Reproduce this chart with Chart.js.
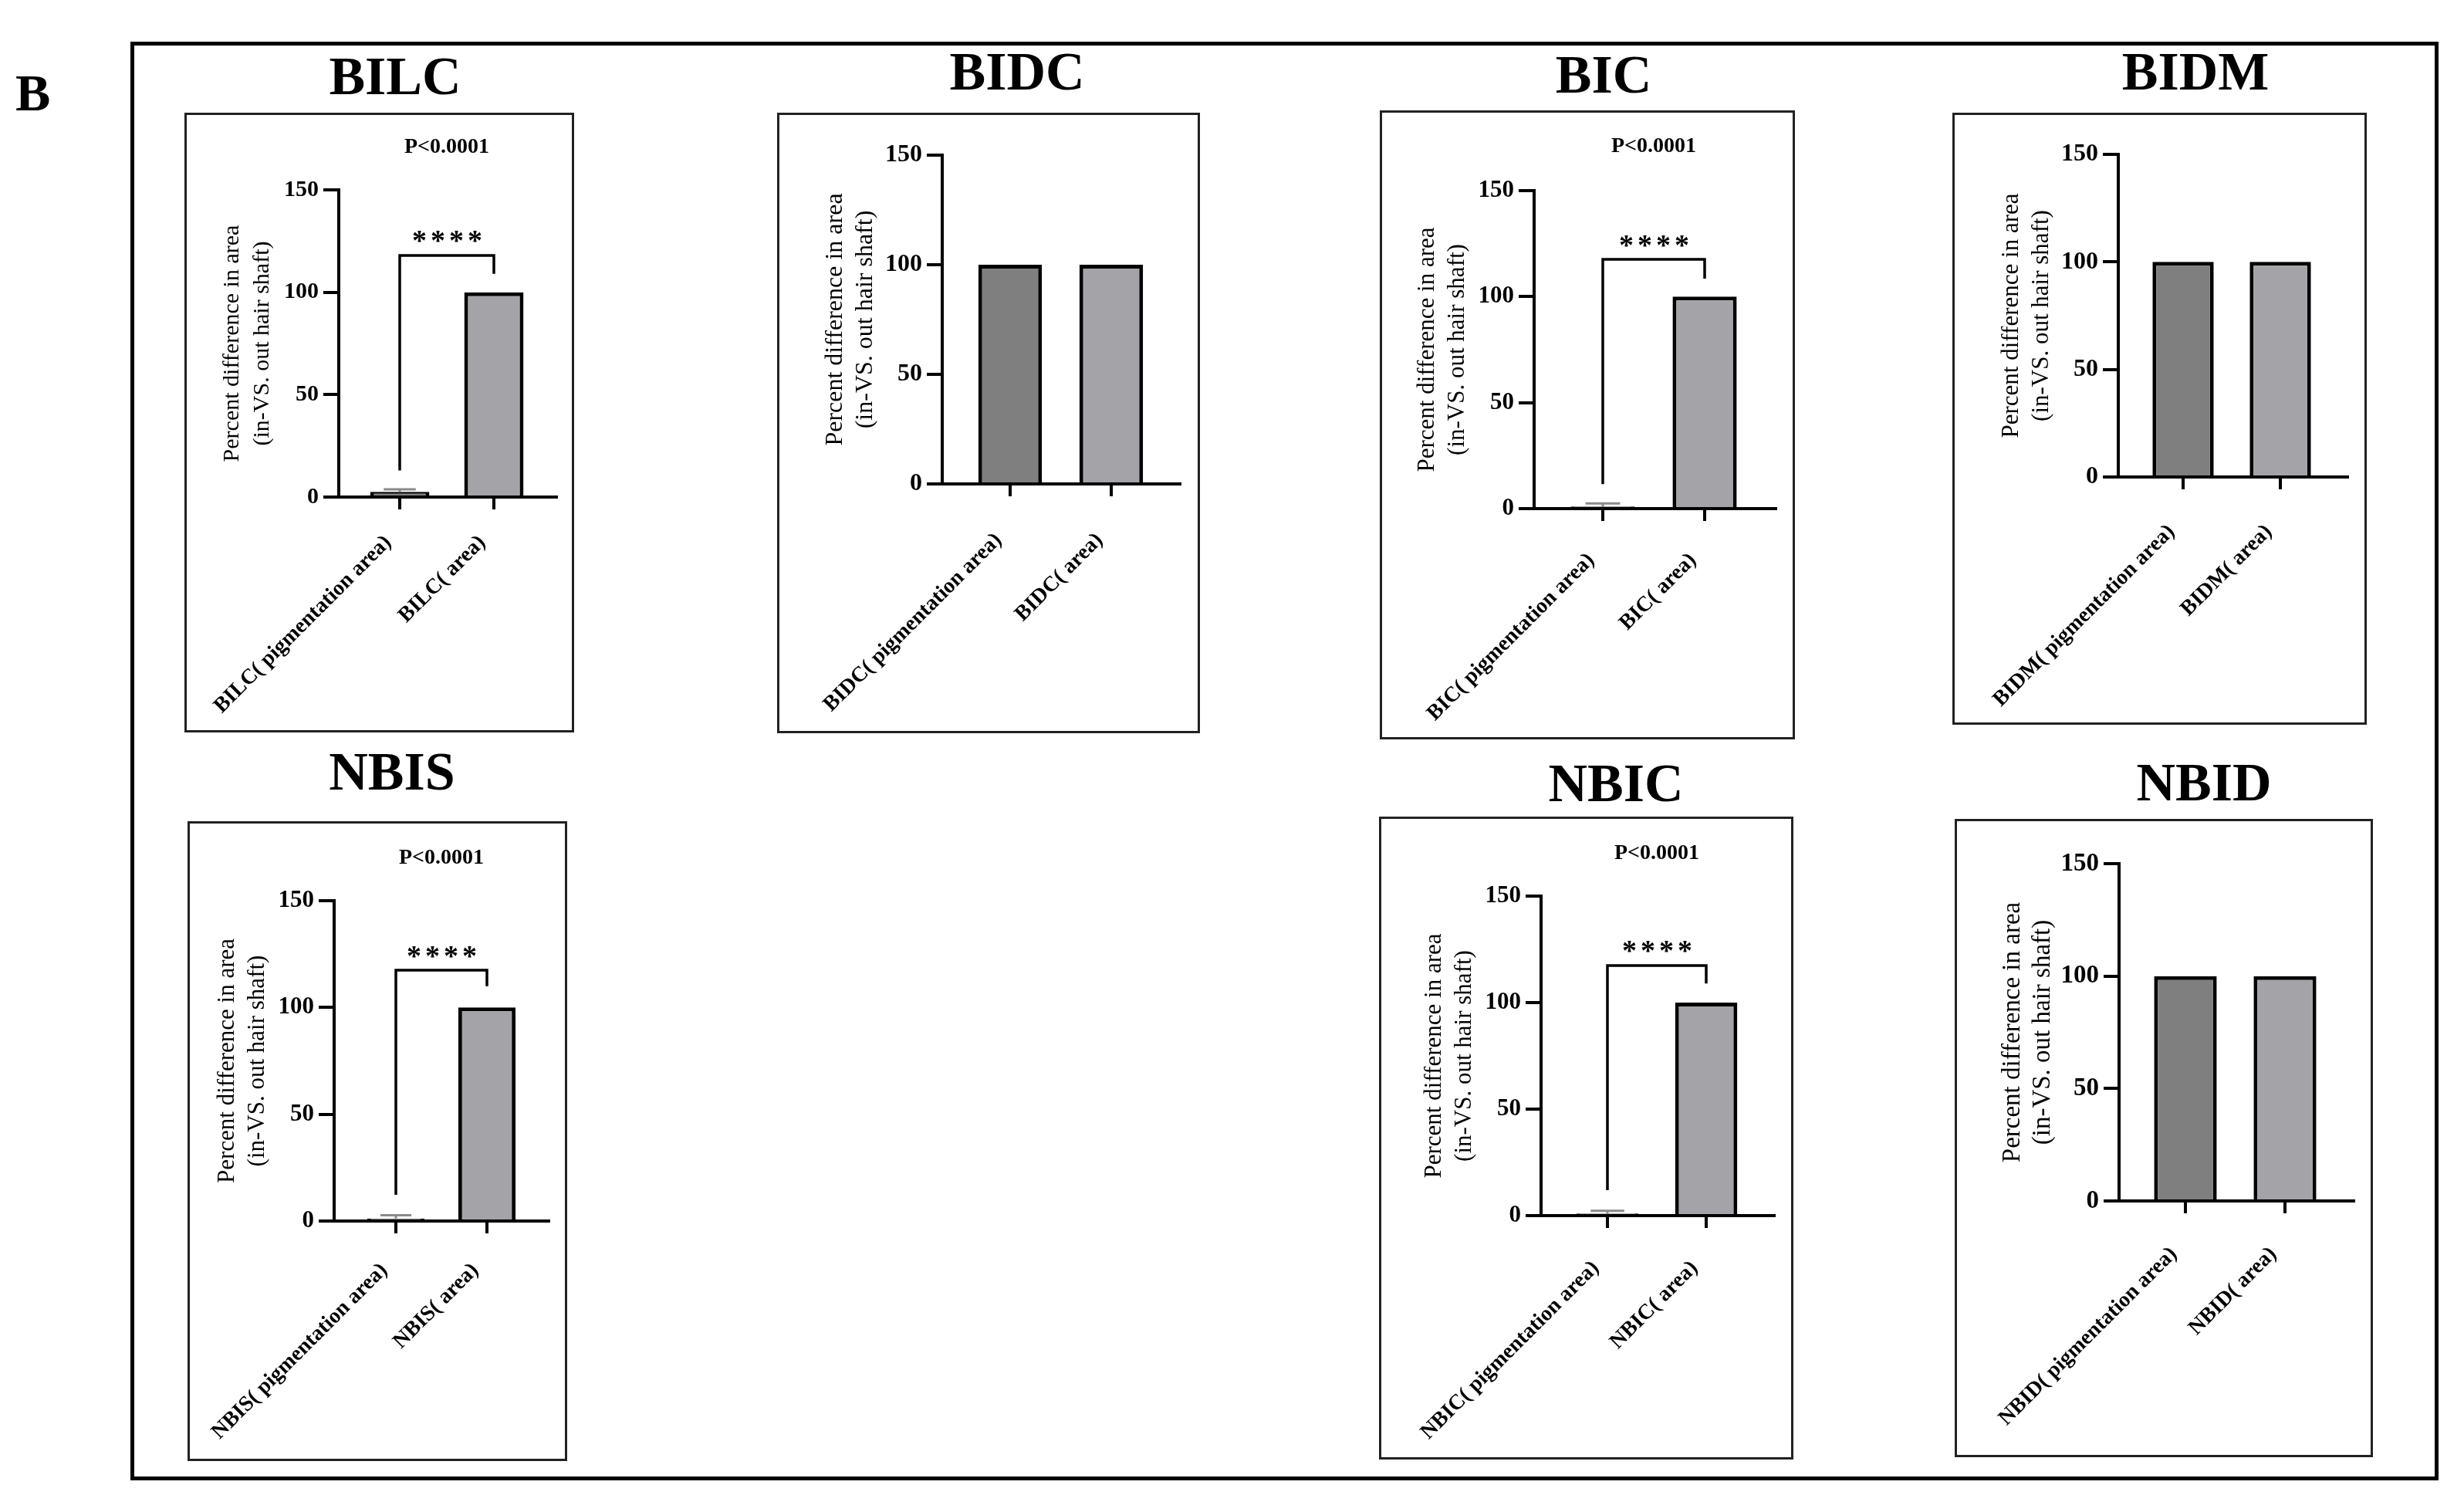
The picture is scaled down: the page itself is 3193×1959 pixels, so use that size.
<!DOCTYPE html>
<html>
<head>
<meta charset="utf-8">
<title>Pigmentation area panels</title>
<script src="https://cdn.jsdelivr.net/npm/chart.js@4.4.1/dist/chart.umd.min.js"></script>
<style>
  body { margin: 0; background: #fff; width: 3193px; height: 1959px; position: relative; overflow: hidden;
         font-family: 'Liberation Serif', 'Times New Roman', serif; }
  .frame { position: absolute; left: 169px; top: 54px; width: 2991px; height: 1864px;
           border: 5px solid #000; box-sizing: border-box; }
  .letter { position: absolute; left: 20px; top: 86px; font-size: 68px; line-height: 1; font-weight: bold; }
  .ttl { position: absolute; font-size: 70px; line-height: 1; font-weight: bold; white-space: nowrap;
         transform: translate(-50%, -50%); }
  .box { position: absolute; border: 3px solid #222; box-sizing: border-box; }
  canvas { position: absolute; }
</style>
</head>
<body>
<div class="frame"></div>
<div class="letter">B</div>
<script>
// ---- data ----
const panelNames = ['BILC', 'BIDC', 'BIC', 'BIDM', 'NBIS', 'NBIC', 'NBID'];
const categorySuffixes = ['( pigmentation area)', '( area)'];
const pigmentationValues = [2.5, 100, 1.0, 100, 1.2, 1.0, 100];
const pigmentationErrors = [1.3, 0, 1.5, 0, 1.5, 1.3, 0];
const areaValues = [100, 100, 100, 100, 100, 100, 100];
const pValueLabels = ['P<0.0001', '', 'P<0.0001', '', 'P<0.0001', 'P<0.0001', ''];
const starLabels = ['****', '', '****', '', '****', '****', ''];
const pLevels = [171, null, 171, null, 170, 170, null];
const starLevels = [128, null, 127, null, 127, 127, null];
const bracketTops = [118, null, 117.6, null, 117.5, 117.4, null];
const bracketLeftEnds = [13, null, 11.6, null, 12.3, 12, null];
const bracketRightEnds = [109, null, 108.5, null, 110, 109, null];
const yTickValues = [0, 50, 100, 150];
const yAxisTitle = ['Percent difference in area', '(in-VS. out hair shaft)'];
const barColors = ['#7f7f7f', '#a4a4a8'];

// ---- where each panel sits on the page (box, plot area edges, tick x, title centre, label gap) ----
const panelLayout = [
  { box: [239, 146, 744, 949],    plot: [439, 246, 721, 644],     ticks: [518, 640],   title: [512, 99],    gap: 47 },
  { box: [1007, 146, 1555, 950],  plot: [1221, 201, 1529, 627],   ticks: [1309, 1440], title: [1318, 93],   gap: 61 },
  { box: [1788, 143, 2326, 958],  plot: [1988, 247, 2301, 659],   ticks: [2077, 2209], title: [2078, 97],   gap: 55 },
  { box: [2530, 146, 3067, 939],  plot: [2745, 200, 3042, 618],   ticks: [2829, 2955], title: [2845, 93],   gap: 59 },
  { box: [243, 1064, 735, 1893],  plot: [433, 1167, 711, 1582],   ticks: [513, 631],   title: [508, 1000],  gap: 52 },
  { box: [1787, 1058, 2324, 1891], plot: [1997, 1161, 2299, 1575], ticks: [2083, 2211], title: [2094, 1015], gap: 56 },
  { box: [2533, 1061, 3075, 1888], plot: [2746, 1119, 3050, 1556], ticks: [2832, 2961], title: [2856, 1014], gap: 57 }
];

const SERIF = "'Liberation Serif', 'Times New Roman', serif";
const Y_SCALE_W = 170;

// error bar, significance bracket, stars and p value
const sigPlugin = {
  id: 'sig',
  afterDraw(chart, args, opts) {
    const i = opts.index;
    const { ctx, scales: { x, y } } = chart;
    ctx.save();

    if (pigmentationErrors[i] > 0) {
      const bar = chart.getDatasetMeta(0).data[0];
      const cx = x.getPixelForValue(0);
      const yTop = y.getPixelForValue(pigmentationValues[i] + pigmentationErrors[i]);
      const yBase = y.getPixelForValue(pigmentationValues[i]);
      const half = bar.width * 0.27;
      ctx.strokeStyle = '#8a8a8a';
      ctx.lineWidth = 3;
      ctx.beginPath();
      ctx.moveTo(cx, yBase);
      ctx.lineTo(cx, yTop);
      ctx.moveTo(cx - half, yTop);
      ctx.lineTo(cx + half, yTop);
      ctx.stroke();
    }

    if (bracketTops[i] != null) {
      const x0 = x.getPixelForValue(0);
      const x1 = x.getPixelForValue(1);
      ctx.strokeStyle = '#000';
      ctx.lineWidth = 3.5;
      ctx.beginPath();
      ctx.moveTo(x0, y.getPixelForValue(bracketLeftEnds[i]));
      ctx.lineTo(x0, y.getPixelForValue(bracketTops[i]));
      ctx.lineTo(x1, y.getPixelForValue(bracketTops[i]));
      ctx.lineTo(x1, y.getPixelForValue(bracketRightEnds[i]));
      ctx.stroke();

      const mid = x.getPixelForValue(0.5);
      ctx.fillStyle = '#000';
      ctx.textAlign = 'center';
      ctx.font = 'bold 38px ' + SERIF;
      ctx.letterSpacing = '5px';
      ctx.textBaseline = 'alphabetic';
      ctx.fillText(starLabels[i], mid + 3, y.getPixelForValue(starLevels[i]) + 20);
      ctx.letterSpacing = '0px';
      ctx.font = 'bold 28px ' + SERIF;
      ctx.textBaseline = 'middle';
      ctx.fillText(pValueLabels[i], mid, y.getPixelForValue(pLevels[i]));
    }
    ctx.restore();
  }
};

panelNames.forEach((name, i) => {
  const lay = panelLayout[i];
  const [bx0, by0, bx1, by1] = lay.box;
  const [L, T, R, B] = lay.plot;
  const [t0, t1] = lay.ticks;
  const step = t1 - t0;
  const plotH = B - T;

  const canvas = document.createElement('canvas');
  canvas.width = bx1 - bx0;
  canvas.height = by1 - by0;
  canvas.style.left = bx0 + 'px';
  canvas.style.top = by0 + 'px';
  document.body.appendChild(canvas);

  const box = document.createElement('div');
  box.className = 'box';
  Object.assign(box.style, { left: bx0 + 'px', top: by0 + 'px', width: (bx1 - bx0) + 'px', height: (by1 - by0) + 'px' });
  document.body.appendChild(box);

  const ttl = document.createElement('div');
  ttl.className = 'ttl';
  ttl.textContent = name;
  ttl.style.left = lay.title[0] + 'px';
  ttl.style.top = lay.title[1] + 'px';
  document.body.appendChild(ttl);

  const titleSize = Math.round(0.075 * plotH);
  const titleLine = 39;

  new Chart(canvas, {
    type: 'bar',
    data: {
      datasets: [{
        data: [{ x: 0, y: pigmentationValues[i] }, { x: 1, y: areaValues[i] }],
        backgroundColor: barColors,
        borderColor: '#000',
        borderWidth: 5,
        categoryPercentage: 1,
        barPercentage: 0.63
      }]
    },
    options: {
      responsive: false,
      animation: false,
      events: [],
      layout: {
        autoPadding: false,
        padding: { left: L - bx0 - Y_SCALE_W, top: T - by0, right: bx1 - R, bottom: 0 }
      },
      plugins: { legend: { display: false }, tooltip: { enabled: false }, sig: { index: i } },
      scales: {
        x: {
          type: 'linear',
          offset: false,
          min: -(t0 - L) / step,
          max: 1 + (R - t1) / step,
          afterBuildTicks: s => { s.ticks = [{ value: 0 }, { value: 1 }]; },
          afterFit: s => { s.height = by1 - B; s.paddingLeft = 0; s.paddingRight = 0; },
          grid: { offset: false, drawOnChartArea: false, tickLength: 16, lineWidth: 4, color: '#000' },
          border: { display: true, width: 4, color: '#000' },
          ticks: {
            autoSkip: false, minRotation: 45, maxRotation: 45,
            padding: lay.gap - 20, labelOffset: -15, color: '#000',
            font: { family: SERIF, size: 28, weight: 'bold' },
            callback: (v, idx) => name + categorySuffixes[idx]
          }
        },
        y: {
          min: 0, max: 150,
          afterBuildTicks: s => { s.ticks = yTickValues.map(v => ({ value: v })); },
          afterFit: s => { s.width = Y_SCALE_W; s.paddingTop = 0; s.paddingBottom = 0; },
          grid: { drawOnChartArea: false, tickLength: 20, lineWidth: 4, color: '#000' },
          border: { display: true, width: 4, color: '#000' },
          ticks: { padding: 6, color: '#000', font: { family: SERIF, size: Math.round(30 * plotH / 398), weight: 'bold' } },
          title: {
            display: true,
            text: yAxisTitle,
            color: '#000',
            font: { family: SERIF, size: titleSize, weight: 'normal', lineHeight: titleLine / titleSize },
            padding: { top: Y_SCALE_W - 138 - titleLine / 2, bottom: 0 }
          }
        }
      }
    },
    plugins: [sigPlugin]
  });
});
</script>
</body>
</html>
